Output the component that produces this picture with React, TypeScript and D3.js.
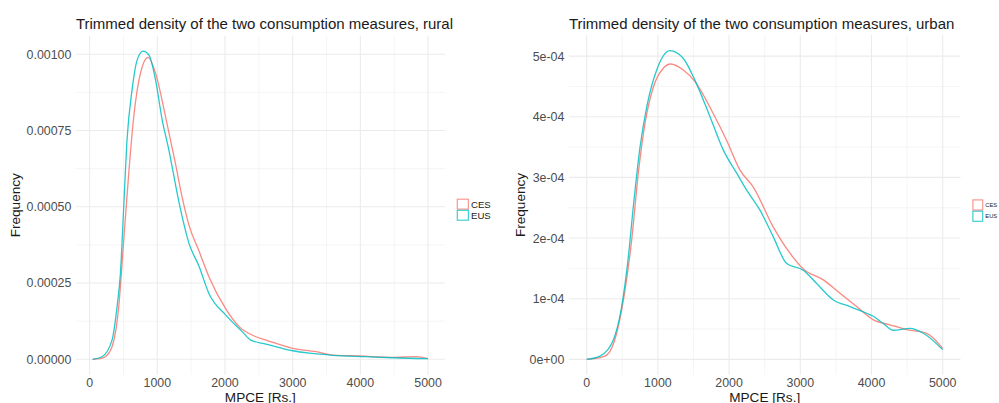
import React, { useRef, useEffect } from "react";
import * as d3 from "d3";

const W = 999;
const H = 403;

// density readings, rural (MPCE in Rs., density)
const ruralCesMpce = [45, 150, 232, 331, 430, 504, 578, 652, 751, 865, 974, 1122, 1270, 1370, 1470, 1616, 1764, 2012, 2209, 2457, 2605, 3000, 3346, 3594, 3989, 4482, 4829, 5000];
const ruralCesDensity = [0, 0.000002, 0.0000085, 0.000041, 0.000172, 0.00039, 0.00061, 0.000795, 0.000938, 0.00099, 0.000938, 0.000795, 0.00064, 0.000528, 0.000438, 0.000355, 0.00027, 0.000165, 0.000107, 0.000074, 0.000063, 0.000036, 0.000025, 0.000014, 0.000011, 0.0000065, 0.0000085, 0.000002];

const ruralEusMpce = [45, 183, 331, 405, 455, 504, 553, 627, 701, 790, 875, 974, 1072, 1171, 1320, 1468, 1616, 1764, 2012, 2258, 2382, 2605, 3000, 3247, 3594, 4088, 4582, 5000];
const ruralEusDensity = [0, 0.0000085, 0.000063, 0.000172, 0.000282, 0.0005, 0.00072, 0.000883, 0.00098, 0.00101, 0.000998, 0.000916, 0.000785, 0.000686, 0.000515, 0.00038, 0.000305, 0.000215, 0.000145, 0.00009, 0.000063, 0.00005, 0.000028, 0.00002, 0.000013, 0.0000085, 0.0000043, 0.000002];

// density readings, urban
const urbanCesMpce = [0, 150, 281, 421, 538, 632, 725, 819, 936, 1076, 1180, 1357, 1521, 1778, 1966, 2153, 2340, 2621, 2855, 3042, 3323, 3558, 3792, 4026, 4260, 4494, 4775, 5000];
const urbanCesDensity = [0, 0.000002, 0.000007, 0.000043, 0.000114, 0.000197, 0.000307, 0.000389, 0.000449, 0.00048, 0.000487, 0.000477, 0.000458, 0.000405, 0.000361, 0.000312, 0.000284, 0.000218, 0.000175, 0.000149, 0.000131, 0.000109, 0.000087, 0.000065, 0.000057, 0.000049, 0.000043, 0.000018];

const urbanEusMpce = [0, 187, 374, 491, 585, 655, 749, 843, 983, 1170, 1357, 1521, 1732, 1919, 2107, 2247, 2434, 2621, 2809, 3042, 3230, 3464, 3698, 3932, 4026, 4166, 4307, 4541, 4728, 5000];
const urbanEusDensity = [0, 0.0000054, 0.000032, 0.000087, 0.000169, 0.000252, 0.00035, 0.000416, 0.000477, 0.000509, 0.000496, 0.00046, 0.0004, 0.000345, 0.000307, 0.000279, 0.000246, 0.000202, 0.000158, 0.000147, 0.000125, 0.000098, 0.000087, 0.000076, 0.000071, 0.000059, 0.000048, 0.000051, 0.000043, 0.000016];

const xTicks = [0, 1000, 2000, 3000, 4000, 5000];
const ruralYTicks = [0, 0.00025, 0.0005, 0.00075, 0.001];
const urbanYTicks = [0, 1e-4, 2e-4, 3e-4, 4e-4, 5e-4];

const seriesNames = ["CES", "EUS"];
const seriesColors = ["#F8766D", "#00BFC4"];

const FONT = "'Liberation Sans', Arial, Helvetica, sans-serif";

// R style scientific labels: 5e-04, 0e+00
const sci = (v) => {
  const [m, e] = v.toExponential(0).split("e");
  const n = +e;
  return `${m}e${n < 0 ? "-" : "+"}${String(Math.abs(n)).padStart(2, "0")}`;
};

function drawPanel(svg, o) {
  const g = svg.append("g");

  const allX = o.series.flatMap((s) => s.x);
  const allY = o.series.flatMap((s) => s.y);
  const [x0, x1] = d3.extent(allX);
  const [y0, y1] = d3.extent(allY);
  const xPad = (x1 - x0) * 0.05;
  const yPad = (y1 - y0) * 0.05;

  const x = d3.scaleLinear().domain([x0 - xPad, x1 + xPad]).range([o.left, o.right]);
  const y = d3.scaleLinear().domain([y0 - yPad, y1 + yPad]).range([o.bottom, o.top]);

  const minor = (ticks) => d3.pairs(ticks).map(([a, b]) => (a + b) / 2);

  // minor grid
  g.selectAll(".mx")
    .data(minor(xTicks))
    .enter()
    .append("line")
    .attr("x1", (d) => x(d))
    .attr("x2", (d) => x(d))
    .attr("y1", o.top)
    .attr("y2", o.bottom)
    .attr("stroke", "#f2f2f2")
    .attr("stroke-width", 0.8);
  g.selectAll(".my")
    .data(minor(o.yTicks))
    .enter()
    .append("line")
    .attr("x1", o.left)
    .attr("x2", o.right)
    .attr("y1", (d) => y(d))
    .attr("y2", (d) => y(d))
    .attr("stroke", "#f2f2f2")
    .attr("stroke-width", 0.8);

  // major grid
  g.selectAll(".gx")
    .data(xTicks)
    .enter()
    .append("line")
    .attr("x1", (d) => x(d))
    .attr("x2", (d) => x(d))
    .attr("y1", o.top)
    .attr("y2", o.bottom)
    .attr("stroke", "#ebebeb")
    .attr("stroke-width", 1.1);
  g.selectAll(".gy")
    .data(o.yTicks)
    .enter()
    .append("line")
    .attr("x1", o.left)
    .attr("x2", o.right)
    .attr("y1", (d) => y(d))
    .attr("y2", (d) => y(d))
    .attr("stroke", "#ebebeb")
    .attr("stroke-width", 1.1);

  // density lines
  const line = d3
    .line()
    .x((d) => x(d[0]))
    .y((d) => y(d[1]))
    .curve(d3.curveMonotoneX);

  o.series.forEach((s, i) => {
    g.append("path")
      .attr("d", line(d3.zip(s.x, s.y)))
      .attr("fill", "none")
      .attr("stroke", seriesColors[i])
      .attr("stroke-width", 1.3)
      .attr("stroke-opacity", 0.85);
  });

  // tick labels
  g.selectAll(".xl")
    .data(xTicks)
    .enter()
    .append("text")
    .attr("x", (d) => x(d))
    .attr("y", o.bottom + 12.6)
    .attr("text-anchor", "middle")
    .attr("font-size", 12.4)
    .attr("fill", "#4d4d4d")
    .text((d) => d);
  g.selectAll(".yl")
    .data(o.yTicks)
    .enter()
    .append("text")
    .attr("x", o.left - 4.5)
    .attr("y", (d) => y(d))
    .attr("dy", "0.36em")
    .attr("text-anchor", "end")
    .attr("font-size", 12.4)
    .attr("fill", "#4d4d4d")
    .text((d) => o.yFormat(d));

  // titles
  g.append("text")
    .attr("x", o.left)
    .attr("y", 28.5)
    .attr("font-size", 15)
    .attr("fill", "#1a1a1a")
    .text(o.title);
  g.append("text")
    .attr("x", (o.left + o.right) / 2)
    .attr("y", 401.5)
    .attr("text-anchor", "middle")
    .attr("font-size", 13.6)
    .attr("fill", "#1a1a1a")
    .text("MPCE [Rs.]");
  g.append("text")
    .attr("transform", `translate(${o.yTitleX},${(o.top + o.bottom) / 2}) rotate(-90)`)
    .attr("text-anchor", "middle")
    .attr("font-size", 13.6)
    .attr("fill", "#1a1a1a")
    .text("Frequency");

  // legend
  const lg = g
    .selectAll(".lg")
    .data(seriesNames)
    .enter()
    .append("g")
    .attr("transform", (d, i) => `translate(${o.legX},${o.legY + i * o.keyH})`);
  lg.append("rect")
    .attr("x", 0.6)
    .attr("y", 0.6)
    .attr("width", o.keyW - 1.2)
    .attr("height", o.keyH - 1.2)
    .attr("fill", "white")
    .attr("stroke", (d, i) => seriesColors[i])
    .attr("stroke-opacity", 0.75)
    .attr("stroke-width", 1.2);
  lg.append("text")
    .attr("x", o.keyW + 2)
    .attr("y", o.keyH / 2)
    .attr("dy", "0.36em")
    .attr("font-size", o.legFont)
    .attr("fill", "#1a1a1a")
    .text((d) => d);
}

const App = () => {
  const svgRef = useRef(null);

  useEffect(() => {
    const svg = d3.select(svgRef.current);
    svg.selectAll("*").remove();

    drawPanel(svg, {
      title: "Trimmed density of the two consumption measures, rural",
      left: 75.9,
      right: 444.8,
      top: 35.8,
      bottom: 374.7,
      yTicks: ruralYTicks,
      yFormat: d3.format(".5f"),
      yTitleX: 19.8,
      legX: 456.7,
      legY: 198.6,
      keyW: 12.3,
      keyH: 11.1,
      legFont: 9.6,
      series: [
        { x: ruralCesMpce, y: ruralCesDensity },
        { x: ruralEusMpce, y: ruralEusDensity },
      ],
    });

    drawPanel(svg, {
      title: "Trimmed density of the two consumption measures, urban",
      left: 568.9,
      right: 960.5,
      top: 35.2,
      bottom: 374.8,
      yTicks: urbanYTicks,
      yFormat: sci,
      yTitleX: 525,
      legX: 972.3,
      legY: 199.3,
      keyW: 11,
      keyH: 11.3,
      legFont: 5.8,
      series: [
        { x: urbanCesMpce, y: urbanCesDensity },
        { x: urbanEusMpce, y: urbanEusDensity },
      ],
    });
  }, []);

  return (
    <svg
      ref={svgRef}
      width={W}
      height={H}
      style={{ position: "absolute", left: 0, top: 0, background: "white", fontFamily: FONT }}
    />
  );
};

export default App;
